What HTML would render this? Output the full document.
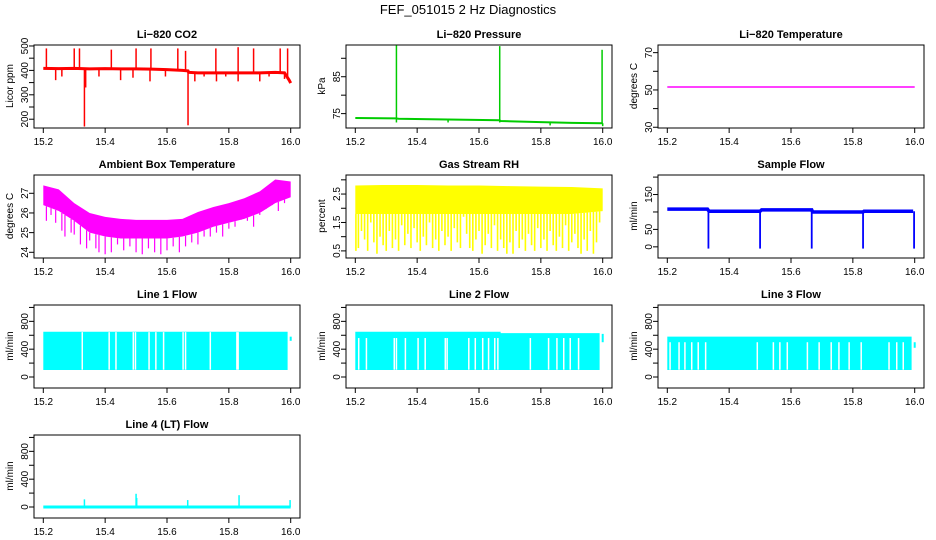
<!DOCTYPE html>
<html><head><meta charset="utf-8"><style>
html,body{margin:0;padding:0;background:#fff}
svg{display:block;font-family:"Liberation Sans",sans-serif}
</style></head><body>
<svg id="chart" width="936" height="540" viewBox="0 0 936 540" xmlns="http://www.w3.org/2000/svg">
<rect width="936" height="540" fill="#fff"/>
<text x="468" y="14" font-size="13" text-anchor="middle">FEF_051015  2 Hz Diagnostics</text>
</svg>
<script>
// ---- data ----
const xTicks=[15.2,15.4,15.6,15.8,16.0];
const xTickLabels=["15.2","15.4","15.6","15.8","16.0"];
const co2BaseT=[15.2,15.25,15.3,15.35,15.4,15.45,15.5,15.55,15.6,15.65,15.668,15.67,15.7,15.75,15.8,15.85,15.9,15.95,15.98,15.995,16.0];
const co2BaseV=[408,407,408,406,407,406,406,405,403,400,398,392,390,390,390,390,390,392,390,360,348];
const co2SpikeT=[15.21,15.30,15.317,15.42,15.50,15.548,15.635,15.66,15.758,15.83,15.88,15.966,15.99,15.333,15.337,15.668,15.24,15.26,15.38,15.45,15.49,15.545,15.595,15.69,15.72,15.76,15.79,15.83,15.9,15.93,15.98];
const co2SpikeV=[490,490,490,485,490,490,490,480,490,495,490,490,490,170,330,175,360,375,375,360,370,355,375,355,375,355,375,355,355,375,365];
const presBaseT=[15.2,15.33,15.34,15.5,15.667,15.67,15.8,15.9,16.0];
const presBaseV=[73.8,73.7,73.6,73.4,73.2,73.0,72.7,72.5,72.4];
const presSpikeT=[15.333,15.667,15.998,15.333,15.5,15.667,15.83,16.0];
const presSpikeV=[93.5,93.3,92.3,72.6,72.6,72.6,71.8,71.6];
const tempT=[15.2,16.0];
const tempV=[51.6,51.6];
const ambT=[15.2,15.25,15.3,15.35,15.4,15.45,15.5,15.55,15.6,15.65,15.7,15.75,15.8,15.85,15.9,15.95,16.0];
const ambTop=[27.4,27.2,26.5,26.0,25.8,25.7,25.65,25.65,25.65,25.7,26.05,26.3,26.5,26.75,27.1,27.7,27.6];
const ambBot=[26.4,26.1,25.6,25.0,24.8,24.7,24.7,24.7,24.7,24.8,25.0,25.3,25.5,25.7,26.0,26.5,26.8];
const ambDipT=[15.21,15.225,15.24,15.26,15.27,15.29,15.30,15.32,15.34,15.35,15.37,15.38,15.40,15.42,15.44,15.46,15.48,15.50,15.52,15.54,15.56,15.58,15.60,15.62,15.64,15.66,15.68,15.70,15.72,15.74,15.76,15.78,15.80,15.82,15.84,15.86,15.88,15.90,15.92,15.94,15.96,15.98];
const ambDipV=[25.6,25.9,25.5,25.1,24.8,25.0,24.9,24.4,24.2,24.6,24.2,24.0,23.9,24.0,24.4,24.1,24.3,24.0,23.9,24.2,24.0,23.9,24.1,24.3,24.0,24.3,24.5,24.4,24.8,24.8,25.0,24.8,25.2,25.3,25.7,25.6,25.3,25.9,26.3,26.5,26.1,26.5];
const rhT=[15.2,15.3,15.4,15.5,15.6,15.7,15.8,15.9,16.0];
const rhTop=[2.8,2.82,2.82,2.8,2.8,2.78,2.76,2.75,2.7];
const rhSolidBot=[1.8,1.8,1.8,1.8,1.8,1.8,1.8,1.8,1.9];
const rhDipT=[15.202,15.21,15.22,15.23,15.24,15.25,15.26,15.27,15.28,15.29,15.30,15.31,15.32,15.33,15.34,15.35,15.36,15.37,15.38,15.39,15.40,15.41,15.42,15.43,15.44,15.45,15.46,15.47,15.48,15.49,15.50,15.51,15.52,15.53,15.54,15.55,15.56,15.57,15.58,15.59,15.60,15.61,15.62,15.63,15.64,15.65,15.66,15.67,15.68,15.69,15.70,15.71,15.72,15.73,15.74,15.75,15.76,15.77,15.78,15.79,15.80,15.81,15.82,15.83,15.84,15.85,15.86,15.87,15.88,15.89,15.90,15.91,15.92,15.93,15.94,15.95,15.96,15.97,15.98,15.99];
const rhDipV=[0.5,0.6,1.2,0.9,0.5,1.5,0.8,0.4,1.0,0.7,0.5,1.2,0.6,0.9,0.5,1.4,0.7,1.1,0.6,1.3,0.8,0.5,1.0,0.7,1.5,0.6,0.9,0.5,1.2,0.7,1.0,0.5,1.3,0.8,0.6,1.7,1.1,0.6,0.5,0.9,1.2,0.4,0.7,1.1,0.6,1.4,0.5,0.9,0.6,0.4,0.8,0.4,1.2,0.6,0.9,0.5,1.1,0.7,0.5,1.3,0.6,0.9,0.5,1.2,0.7,0.5,1.0,0.6,1.4,0.5,0.8,1.1,0.6,0.4,0.9,0.5,1.2,0.4,0.8,1.5];
const sfT=[15.2,15.33,15.335,15.5,15.505,15.667,15.67,15.833,15.836,15.995];
const sfV=[108,108,102,102,106,106,100,100,102,102];
const sfDropT=[15.333,15.5,15.667,15.833,15.998];
const sfDropV=[-5,-5,-5,-5,-5];
const l1Top=650, l1Bot=100;
const l1Gaps=[15.326,15.413,15.435,15.491,15.498,15.542,15.564,15.589,15.652,15.66,15.74,15.826,15.83];
const l2Top=[650,650,630,630];
const l2TopT=[15.2,15.67,15.67,15.99];
const l2Gaps=[15.211,15.236,15.326,15.333,15.362,15.403,15.426,15.491,15.497,15.567,15.588,15.612,15.631,15.651,15.661,15.766,15.825,15.852,15.874,15.895,15.922];
const l3Top=580;
const l3Gaps=[15.209,15.238,15.257,15.279,15.3,15.324,15.491,15.543,15.564,15.588,15.653,15.691,15.73,15.755,15.788,15.827,15.917,15.942,15.963];
const l4BaseT=[15.2,16.0];
const l4BaseV=[0,0];
const l4SpikeT=[15.333,15.5,15.502,15.667,15.833,15.998];
const l4SpikeV=[110,190,130,100,170,100];

// ---- drawing ----
const svg=document.getElementById('chart');
const NS='http://www.w3.org/2000/svg';
function mk(tag,attrs,parent){const e=document.createElementNS(NS,tag);for(const k in attrs)e.setAttribute(k,attrs[k]);(parent||svg).appendChild(e);return e;}
function xs(c,t){return c*312+43.3+(t-15.2)*(247.4/0.8);}
function ys(r,dom,v){const top=r*130+45,bot=r*130+128;return bot-(v-dom[0])/(dom[1]-dom[0])*(bot-top);}

function panel(c,r,title,ytitle,dom,ticks,labels){
  const g=mk('g',{});
  
  
  const x0=c*312, y0=r*130;
  const t=mk('text',{x:x0+167,y:y0+38,'font-size':11,'font-weight':'bold','text-anchor':'middle'},g);
  t.textContent=title;
  
  
  const box=mk('rect',{x:x0+34,y:y0+45,width:266,height:83,fill:'none',stroke:'#000','stroke-width':1},g);
  
  
  const ya=mk('g',{},g);
  
  
  mk('line',{x1:x0+34,x2:x0+34,y1:ys(r,dom,ticks[0]),y2:ys(r,dom,ticks[ticks.length-1]),stroke:'#000'},ya);
  ticks.forEach((v,i)=>{const y=ys(r,dom,v);mk('line',{x1:x0+29,x2:x0+34,y1:y,y2:y,stroke:'#000'},ya);
    if(labels[i]){const l=mk('text',{x:x0+28,y:y,'font-size':10,'text-anchor':'middle',transform:`rotate(-90 ${x0+28} ${y})`},ya);l.textContent=labels[i];
    
    }});
  const yt=mk('text',{x:x0+13,y:y0+86,'font-size':10,'text-anchor':'middle',transform:`rotate(-90 ${x0+13} ${y0+86})`},g);
  yt.textContent=ytitle;
  
  
  const xa=mk('g',{},g);
  
  
  mk('line',{x1:xs(c,15.2),x2:xs(c,16.0),y1:y0+128,y2:y0+128,stroke:'#000'},xa);
  xTicks.forEach((v,i)=>{const x=xs(c,v);mk('line',{x1:x,x2:x,y1:y0+128,y2:y0+133,stroke:'#000'},xa);
    const l=mk('text',{x:x,y:y0+145,'font-size':10,'text-anchor':'middle'},xa);l.textContent=xTickLabels[i];
    
    });
  const d=mk('g',{},g);
  
  
  return d;
}
function poly(g,c,r,dom,T,V,col,w){return mk('polyline',{points:T.map((t,i)=>xs(c,t)+','+ys(r,dom,V[i])).join(' '),fill:'none',stroke:col,'stroke-width':w},g);}
function spikes(g,c,r,dom,baseT,baseV,T,V,col,w){T.forEach((t,i)=>{const b=interp(baseT,baseV,t);mk('line',{x1:xs(c,t),x2:xs(c,t),y1:ys(r,dom,b),y2:ys(r,dom,V[i]),stroke:col,'stroke-width':w},g);});}
function interp(T,V,t){if(t<=T[0])return V[0];for(let i=1;i<T.length;i++){if(t<=T[i]){const f=(t-T[i-1])/((T[i]-T[i-1])||1);return V[i-1]+f*(V[i]-V[i-1]);}}return V[V.length-1];}
function band(g,c,r,dom,T,top,bot,col){const pts=T.map((t,i)=>xs(c,t)+','+ys(r,dom,top[i])).concat(T.slice().reverse().map((t,i)=>xs(c,t)+','+ys(r,dom,bot[T.length-1-i])));return mk('polygon',{points:pts.join(' '),fill:col},g);}

let dom=[164,504];
let g=panel(0,0,'Li\u2212820 CO2','Licor ppm',dom,[200,250,300,350,400,450,500],['200','','300','','400','','500']);
poly(g,0,0,dom,co2BaseT,co2BaseV,'#f00',3);
spikes(g,0,0,dom,co2BaseT,co2BaseV,co2SpikeT,co2SpikeV,'#f00',1.5);
dom=[71.1,93.6];
g=panel(1,0,'Li\u2212820 Pressure','kPa',dom,[75,80,85,90],['75','','85','']);
poly(g,1,0,dom,presBaseT,presBaseV,'#0c0',2);
spikes(g,1,0,dom,presBaseT,presBaseV,presSpikeT,presSpikeV,'#0c0',1.5);
dom=[29.6,74.1];
g=panel(2,0,'Li\u2212820 Temperature','degrees C',dom,[30,40,50,60,70],['30','','50','','70']);
poly(g,2,0,dom,tempT,tempV,'#f0f',1.5);
dom=[23.71,27.93];
g=panel(0,1,'Ambient Box Temperature','degrees C',dom,[24,25,26,27],['24','25','26','27']);
band(g,0,1,dom,ambT,ambTop,ambBot,'#f0f');
spikes(g,0,1,dom,ambT,ambBot,ambDipT,ambDipV,'#f0f',1.2);
dom=[0.25,3.17];
g=panel(1,1,'Gas Stream RH','percent',dom,[0.5,1,1.5,2,2.5,3],['0.5','','1.5','','2.5','']);
band(g,1,1,dom,rhT,rhTop,rhSolidBot,'#ff0');
spikes(g,1,1,dom,rhT,rhSolidBot,rhDipT,rhDipV,'#ff0',1.6);
dom=[-32,206];
g=panel(2,1,'Sample Flow','ml/min',dom,[0,50,100,150,200],['0','50','','150','']);
poly(g,2,1,dom,sfT,sfV,'#00f',3.5);
spikes(g,2,1,dom,sfT,sfV,sfDropT,sfDropV,'#00f',1.8);
dom=[-158,1035];
const ft=[0,200,400,600,800,1000], fl=['0','','400','','800',''];
function flowPanel(c,r,title,topT,topV,botV,gaps,gapTop,endLo,endHi){
  const g=panel(c,r,title,'ml/min',dom,ft,fl);
  band(g,c,r,dom,topT,topV,topT.map(()=>botV),'#0ff');
  gaps.forEach(t=>{const gl=mk('line',{x1:xs(c,t),x2:xs(c,t),y1:ys(r,dom,botV+5),y2:ys(r,dom,gapTop),stroke:'#fff','stroke-width':1.5},g);
    
    });
  mk('line',{x1:xs(c,16.0),x2:xs(c,16.0),y1:ys(r,dom,endLo),y2:ys(r,dom,endHi),stroke:'#0ff','stroke-width':2},g);
}
flowPanel(0,2,'Line 1 Flow',[15.2,15.99],[l1Top,l1Top],l1Bot,l1Gaps,l1Top-5,520,580);
flowPanel(1,2,'Line 2 Flow',l2TopT,l2Top,100,l2Gaps,560,500,620);
flowPanel(2,2,'Line 3 Flow',[15.2,15.99],[l3Top,l3Top],100,l3Gaps,500,420,500);
g=panel(0,3,'Line 4 (LT) Flow','ml/min',dom,ft,fl);
poly(g,0,3,dom,l4BaseT,l4BaseV,'#0ff',3);
spikes(g,0,3,dom,l4BaseT,l4BaseV,l4SpikeT,l4SpikeV,'#0ff',1.5);
</script>
</body></html>
